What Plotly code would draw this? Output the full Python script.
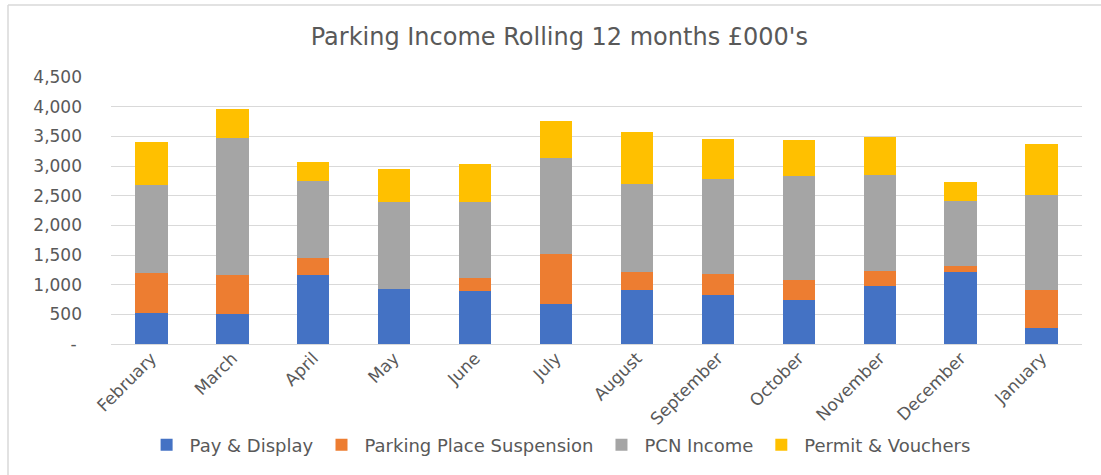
import plotly.graph_objects as go

months = ["February", "March", "April", "May", "June", "July", "August",
          "September", "October", "November", "December", "January"]
pay_display = [530, 513, 1155, 919, 885, 682, 907, 834, 738, 975, 1211, 277]
suspension = [665, 642, 293, 0, 225, 838, 304, 343, 338, 253, 101, 630]
pcn_income = [1480, 2320, 1295, 1480, 1289, 1612, 1482, 1600, 1752, 1617, 1098, 1610]
permits = [730, 490, 321, 547, 631, 630, 883, 676, 613, 647, 326, 851]

series_names = ["Pay & Display", "Parking Place Suspension", "PCN Income", "Permit & Vouchers"]
series_values = [pay_display, suspension, pcn_income, permits]
colors = ["#4472C4", "#ED7D31", "#A5A5A5", "#FFC000"]

y_tickvals = [0, 500, 1000, 1500, 2000, 2500, 3000, 3500, 4000, 4500]
y_ticktext = [" - ", "500", "1,000", "1,500", "2,000", "2,500", "3,000", "3,500", "4,000", "4,500"]

FONT = "'DejaVu Sans', 'Open Sans', sans-serif"
GREY = "#595959"

fig = go.Figure()
for name, vals, col in zip(series_names, series_values, colors):
    fig.add_trace(go.Bar(x=months, y=vals, name=name, marker=dict(color=col, line=dict(width=0))))

W, H = 1101, 475
L, R, T, B = 111, 19, 77, 131
pw, ph = W - L - R, H - T - B

def px_x(x):
    return (x - L) / pw

def px_y(y):
    return (H - B - y) / ph

fig.update_layout(
    width=W, height=H,
    margin=dict(l=L, r=R, t=T, b=B, autoexpand=False),
    barmode="stack", bargap=0.6,
    plot_bgcolor="white", paper_bgcolor="white",
    font=dict(family=FONT, color=GREY, size=15),
    title=dict(text="Parking Income Rolling 12 months £000's", x=0.508, xanchor="center",
               y=1 - 37 / H, yanchor="middle", font=dict(size=24, color=GREY, family=FONT)),
    showlegend=True,
    legend=dict(orientation="h", x=0.462, xanchor="center", y=px_y(445), yanchor="middle",
                font=dict(size=18, color=GREY), traceorder="normal", itemwidth=36),
    xaxis=dict(tickangle=-45, showgrid=False, showline=False, ticks="",
               tickfont=dict(size=17, color=GREY)),
    yaxis=dict(range=[0, 4500], tickvals=y_tickvals, ticktext=y_ticktext,
               showgrid=True, gridcolor="#D9D9D9", gridwidth=1, zeroline=True,
               zerolinecolor="#D9D9D9", zerolinewidth=1, ticks="", showline=False,
               ticklabelstandoff=28, tickfont=dict(size=17, color=GREY)),
    shapes=[
        dict(type="line", xref="paper", yref="paper", x0=px_x(8), x1=px_x(1101),
             y0=px_y(5), y1=px_y(5), line=dict(color="#D9D9D9", width=1.5)),
        dict(type="line", xref="paper", yref="paper", x0=px_x(8), x1=px_x(8),
             y0=px_y(5), y1=px_y(475), line=dict(color="#D9D9D9", width=1.5)),
    ],
)

fig.write_html("out.html", config={"displayModeBar": False},
               post_script="document.body.style.margin='0';")
